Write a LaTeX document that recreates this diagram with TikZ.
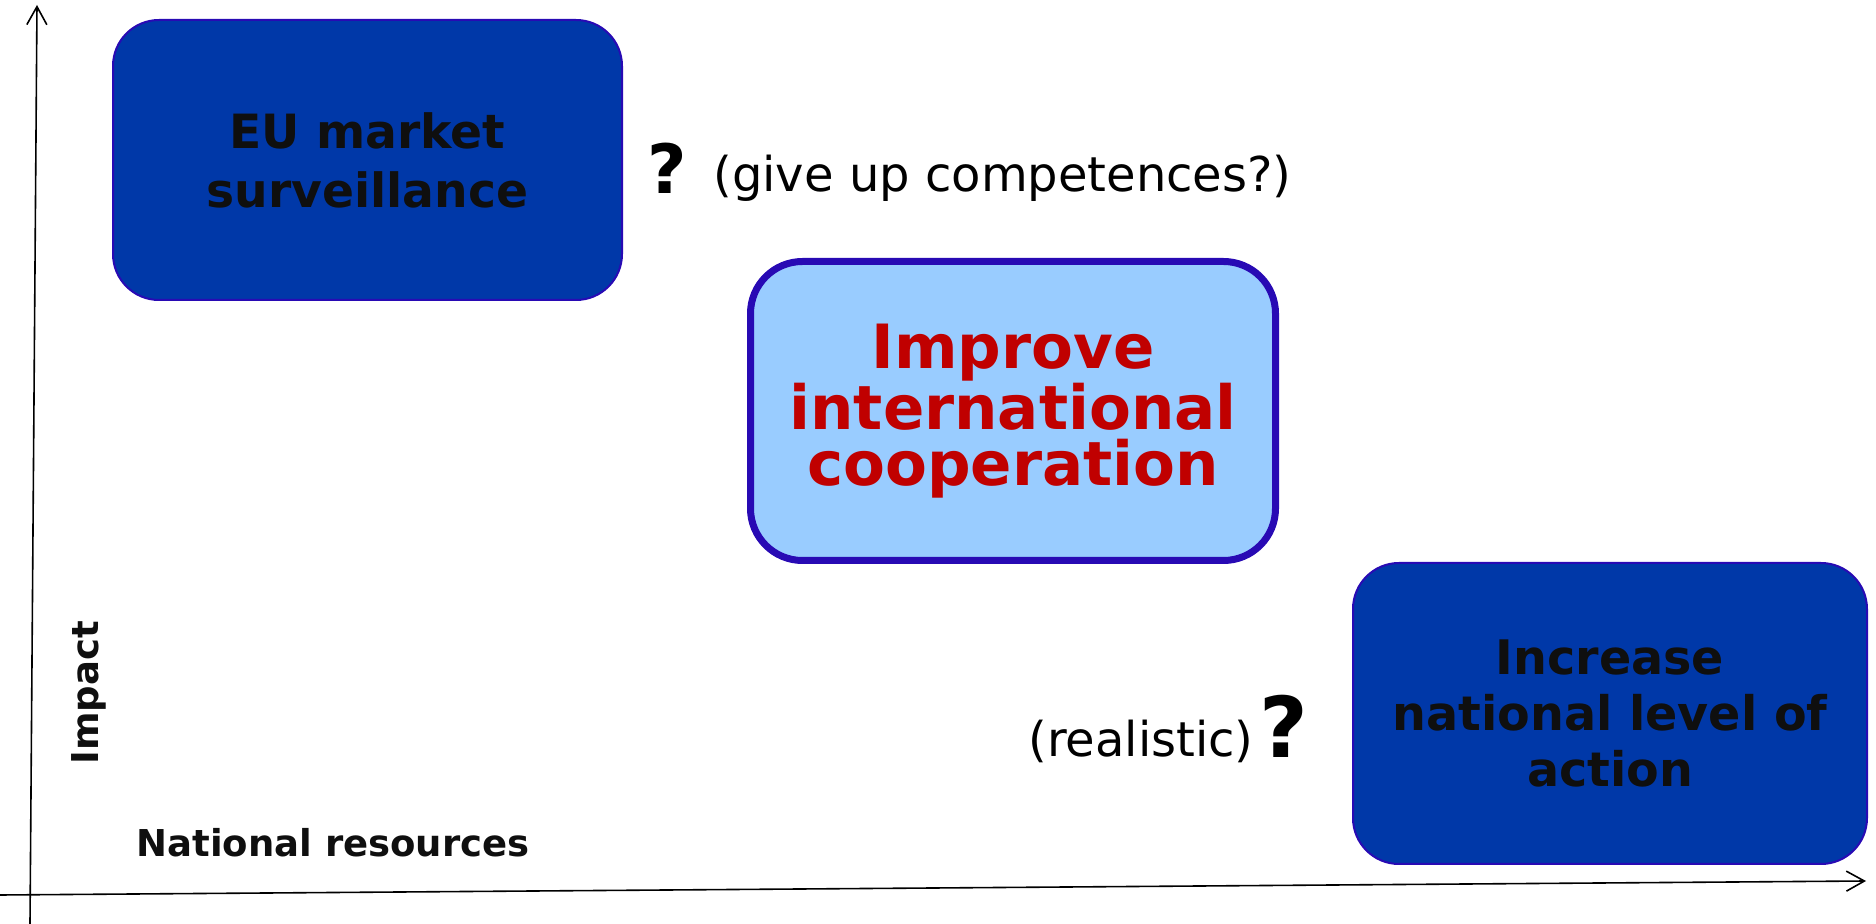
\documentclass[tikz,border=0pt]{standalone}
\usepackage{fontspec}
\setmainfont{DejaVu Sans}
\usetikzlibrary{arrows.meta}
\definecolor{boxblue}{RGB}{0,56,168}
\definecolor{boxedge}{RGB}{40,10,180}
\definecolor{paleblue}{RGB}{153,204,255}
\definecolor{redtext}{RGB}{192,0,0}
\definecolor{inkblack}{RGB}{15,15,15}
\begin{document}
\begin{tikzpicture}[x=0.5pt, y=-0.5pt, line join=round, line cap=round,
		>={Straight Barb[length=9pt,width=10pt]},
		darkbox/.style={draw=boxedge, line width=1pt, fill=boxblue, rounded corners=23pt,
			align=center, text=inkblack, inner sep=0pt},
		mainbox/.style={draw=boxedge, line width=3.5pt, fill=paleblue, rounded corners=26pt,
			align=center, text=redtext, inner sep=0pt,
			font=\fontsize{30.5}{28}\selectfont\bfseries},
		remark/.style={inner sep=0pt, font=\fontsize{24}{28}\selectfont},
		bigq/.style={inner sep=0pt, font=\bfseries}]
	\useasboundingbox (0,0) rectangle (1876,924);
	% axes
	\coordinate (xs) at (0,895);
	\coordinate (xe) at (1866,881);
	\coordinate (ys) at (30,924);
	\coordinate (ye) at (37,5);
	\draw[line width=0.8pt, ->] (xs)--(xe);
	\draw[line width=0.8pt, ->] (ys)--(ye);
	\node[inner sep=0pt, rotate=90, font=\fontsize{18.5}{22}\selectfont\bfseries, text=inkblack] (impact) at (89,693) {Impact};
	\node[inner sep=0pt, anchor=west, font=\fontsize{18.5}{22}\selectfont\bfseries, text=inkblack] (resources) at (136,843) {National resources};
	% options
	\node[darkbox, minimum width=254.5pt, minimum height=140pt, font=\fontsize{23.6}{29.5}\selectfont\bfseries] (eu) at (367.5,160) {EU market\\surveillance};
	\node[mainbox, minimum width=262.5pt, minimum height=149.5pt] (coop) at (1013,411) {Improve\\international\\cooperation};
	\node[darkbox, minimum width=257pt, minimum height=150.5pt, font=\fontsize{23.8}{27.8}\selectfont\bfseries] (national) at (1610,713.5) {Increase\\national level of\\action};
	% remarks
	\node[bigq, font=\fontsize{34}{34}\selectfont\bfseries] (q1) at (667.5,168) {?};
	\node[remark, anchor=west] (giveup) at (713,178) {(give up competences?)};
	\node[bigq, font=\fontsize{42}{42}\selectfont\bfseries] (q2) at (1284,726) {?};
	\node[remark, anchor=east] (realistic) at (1254,741.5) {(realistic)};
\end{tikzpicture}
\end{document}
